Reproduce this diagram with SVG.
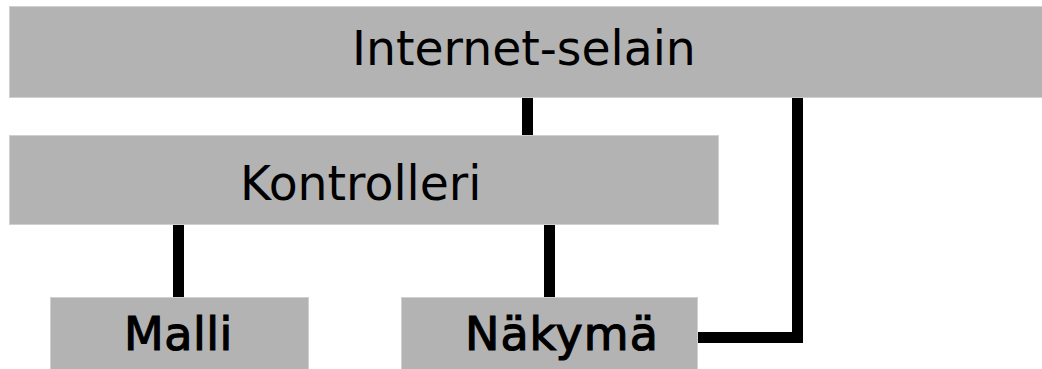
<svg xmlns="http://www.w3.org/2000/svg" width="1042" height="369" viewBox="0 0 1042 369">
  <style>
    .box { fill: #b3b3b3; stroke: #d0d0d0; stroke-width: 1; }
    .label { font-family: "DejaVu Sans", sans-serif; font-size: 47.3px; fill: #000; }
    .label.heavy { font-size: 46px; stroke: #000; stroke-width: 1.2; }
    .wire { fill: none; stroke: #000; stroke-width: 11; stroke-linejoin: miter; }
  </style>
  <rect width="1042" height="369" fill="#fff"/>
  <g id="connectors">
    <line class="wire" x1="527.5" y1="97" x2="527.5" y2="136"/>
    <line class="wire" x1="178.5" y1="224" x2="178.5" y2="298"/>
    <line class="wire" x1="549.5" y1="224" x2="549.5" y2="298"/>
    <polyline class="wire" points="797.5,97 797.5,337.5 693,337.5"/>
  </g>
  <g id="internet-selain">
    <rect class="box" x="9.5" y="6.5" width="1040" height="91"/>
    <text class="label" x="352" y="64.5">Internet-selain</text>
  </g>
  <g id="kontrolleri">
    <rect class="box" x="9.5" y="135.5" width="709" height="89"/>
    <text class="label" x="240" y="200">Kontrolleri</text>
  </g>
  <g id="malli">
    <rect class="box" x="50.5" y="297.5" width="258" height="80"/>
    <text class="label heavy" x="124" y="350" letter-spacing="0.5">Malli</text>
  </g>
  <g id="nakyma">
    <rect class="box" x="401.5" y="297.5" width="296" height="80"/>
    <text class="label heavy" x="465" y="350" letter-spacing="1">Näkymä</text>
  </g>
</svg>
